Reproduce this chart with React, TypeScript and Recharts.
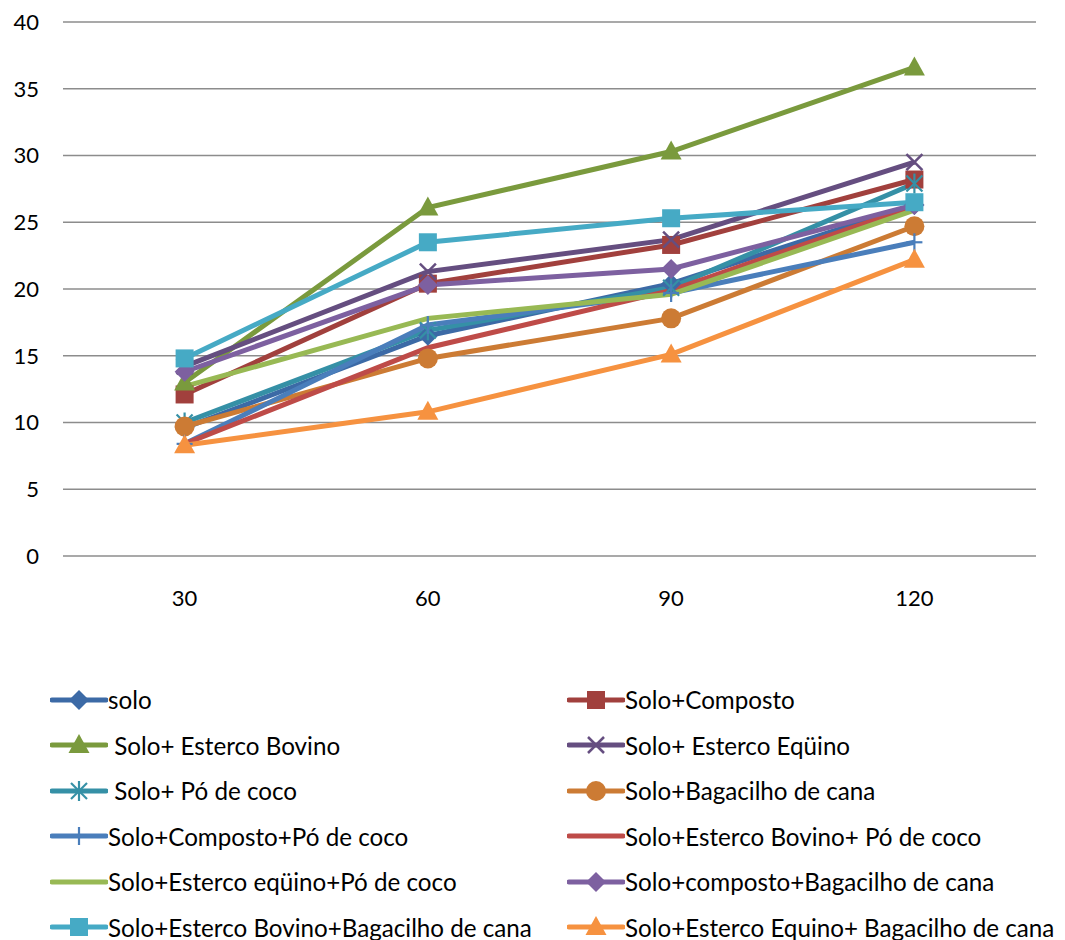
import React from 'react'
import { LineChart, Line, XAxis, YAxis, CartesianGrid, Legend } from 'recharts'

// days after sowing
const days = ['30', '60', '90', '120']

const seriesNames = [
  'solo',
  'Solo+Composto',
  ' Solo+ Esterco Bovino',
  'Solo+ Esterco Eqüino',
  ' Solo+ Pó de coco',
  'Solo+Bagacilho de cana',
  'Solo+Composto+Pó de coco',
  'Solo+Esterco Bovino+ Pó de coco',
  'Solo+Esterco eqüino+Pó de coco',
  'Solo+composto+Bagacilho de cana',
  'Solo+Esterco Bovino+Bagacilho de cana',
  'Solo+Esterco Equino+ Bagacilho de cana',
]

const solo = [9.6, 16.5, 20.4, 26.3]
const soloComposto = [12.1, 20.4, 23.3, 28.2]
const soloEstercoBovino = [13.0, 26.1, 30.3, 36.6]
const soloEstercoEquino = [14.2, 21.3, 23.7, 29.5]
const soloPoCoco = [10.0, 16.9, 20.1, 27.9]
const soloBagacilho = [9.7, 14.8, 17.8, 24.7]
const soloCompostoPoCoco = [8.4, 17.3, 19.7, 23.5]
const soloBovinoPoCoco = [8.4, 15.6, 19.9, 26.2]
const soloEquinoPoCoco = [12.7, 17.8, 19.6, 25.9]
const soloCompostoBagacilho = [13.8, 20.3, 21.5, 26.3]
const soloBovinoBagacilho = [14.8, 23.5, 25.3, 26.5]
const soloEquinoBagacilho = [8.3, 10.8, 15.1, 22.2]

const seriesValues = [
  solo, soloComposto, soloEstercoBovino, soloEstercoEquino, soloPoCoco, soloBagacilho,
  soloCompostoPoCoco, soloBovinoPoCoco, soloEquinoPoCoco, soloCompostoBagacilho,
  soloBovinoBagacilho, soloEquinoBagacilho,
]

const colors = [
  '#3C6AA6', '#A1403D', '#7A9A3D', '#654E80', '#3590A6', '#CC7B34',
  '#4A7EBB', '#BE4B48', '#98B954', '#7D60A0', '#46AAC5', '#F69240',
]

const markers = [
  'diamond', 'square', 'triangle', 'x', 'star', 'circle',
  'plus', 'none', 'none', 'diamond', 'square', 'triangle',
]

const yTicks = [0, 5, 10, 15, 20, 25, 30, 35, 40]

const chartData = days.map((d, i) => {
  const row: Record<string, string | number> = { day: d }
  seriesValues.forEach((vals, s) => { row['s' + s] = vals[i] })
  return row
})

const FONT = 'Lato, "Open Sans", sans-serif'

function Marker({ type, cx, cy, color }: { type: string; cx: number; cy: number; color: string }) {
  if (cx == null || cy == null) return <g />
  switch (type) {
    case 'diamond':
      return <polygon points={`${cx},${cy - 10} ${cx + 10},${cy} ${cx},${cy + 10} ${cx - 10},${cy}`} fill={color} />
    case 'square':
      return <rect x={cx - 9} y={cy - 9} width={18} height={18} fill={color} />
    case 'triangle':
      return <polygon points={`${cx},${cy - 11} ${cx + 10.5},${cy + 8} ${cx - 10.5},${cy + 8}`} fill={color} />
    case 'circle':
      return <circle cx={cx} cy={cy} r={10} fill={color} />
    case 'x':
      return (
        <g stroke={color} strokeWidth={2.5}>
          <line x1={cx - 8} y1={cy - 8} x2={cx + 8} y2={cy + 8} />
          <line x1={cx - 8} y1={cy + 8} x2={cx + 8} y2={cy - 8} />
        </g>
      )
    case 'star':
      return (
        <g stroke={color} strokeWidth={2.2}>
          <line x1={cx - 8} y1={cy - 8} x2={cx + 8} y2={cy + 8} />
          <line x1={cx - 8} y1={cy + 8} x2={cx + 8} y2={cy - 8} />
          <line x1={cx} y1={cy - 10} x2={cx} y2={cy + 10} />
        </g>
      )
    case 'plus':
      return (
        <g stroke={color} strokeWidth={2.2}>
          <line x1={cx} y1={cy - 9} x2={cx} y2={cy + 9} />
          <line x1={cx - 8} y1={cy} x2={cx + 8} y2={cy} />
        </g>
      )
    default:
      return <g />
  }
}

const makeDot = (s: number) => (props: any) => (
  <g key={`dot-${s}-${props.index}`}>
    <Marker type={markers[s]} cx={props.cx} cy={props.cy} color={colors[s]} />
  </g>
)

function LegendContent() {
  return (
    <div
      style={{
        display: 'grid',
        gridTemplateColumns: '517px 498px',
        rowGap: 0,
        fontFamily: FONT,
        fontSize: 24.2,
        color: '#000',
      }}
    >
      {seriesNames.map((name, s) => (
        <div key={name} style={{ display: 'flex', alignItems: 'center', height: 45.5 }}>
          <svg width={58} height={24} style={{ flex: 'none' }}>
            <line x1={2} y1={12} x2={56} y2={12} stroke={colors[s]} strokeWidth={5} strokeLinecap="round" />
            <Marker type={markers[s]} cx={29} cy={12} color={colors[s]} />
          </svg>
          <span style={{ whiteSpace: 'pre' }}>{name}</span>
        </div>
      ))}
    </div>
  )
}

export default function App() {
  return (
    <div style={{ fontFamily: FONT }}>
      <LineChart width={1057} height={932} data={chartData} margin={{ top: 14, right: 29, left: 0, bottom: 324 }}>
        <CartesianGrid vertical={false} stroke="#8C8C8C" strokeWidth={1.5} />
        <XAxis
          dataKey="day"
          axisLine={false}
          tickLine={false}
          tickSize={0}
          tickMargin={34}
          height={60}
          padding={{ left: 121.6, right: 121.6 }}
          tick={{ fill: '#000', fontSize: 22, fontFamily: FONT }}
        />
        <YAxis
          width={55}
          domain={[0, 40]}
          ticks={yTicks}
          axisLine={false}
          tickLine={false}
          tickSize={0}
          tickMargin={24}
          tick={{ fill: '#000', fontSize: 22, fontFamily: FONT }}
        />
        <Legend
          layout="vertical"
          align="center"
          verticalAlign="middle"
          wrapperStyle={{ top: 669, left: 42, width: 1015 }}
          content={<LegendContent />}
        />
        {seriesNames.map((name, s) => (
          <Line
            key={name}
            dataKey={'s' + s}
            name={name}
            stroke={colors[s]}
            strokeWidth={5}
            type="linear"
            dot={markers[s] === 'none' ? false : makeDot(s)}
            activeDot={false}
            isAnimationActive={false}
          />
        ))}
      </LineChart>
    </div>
  )
}
